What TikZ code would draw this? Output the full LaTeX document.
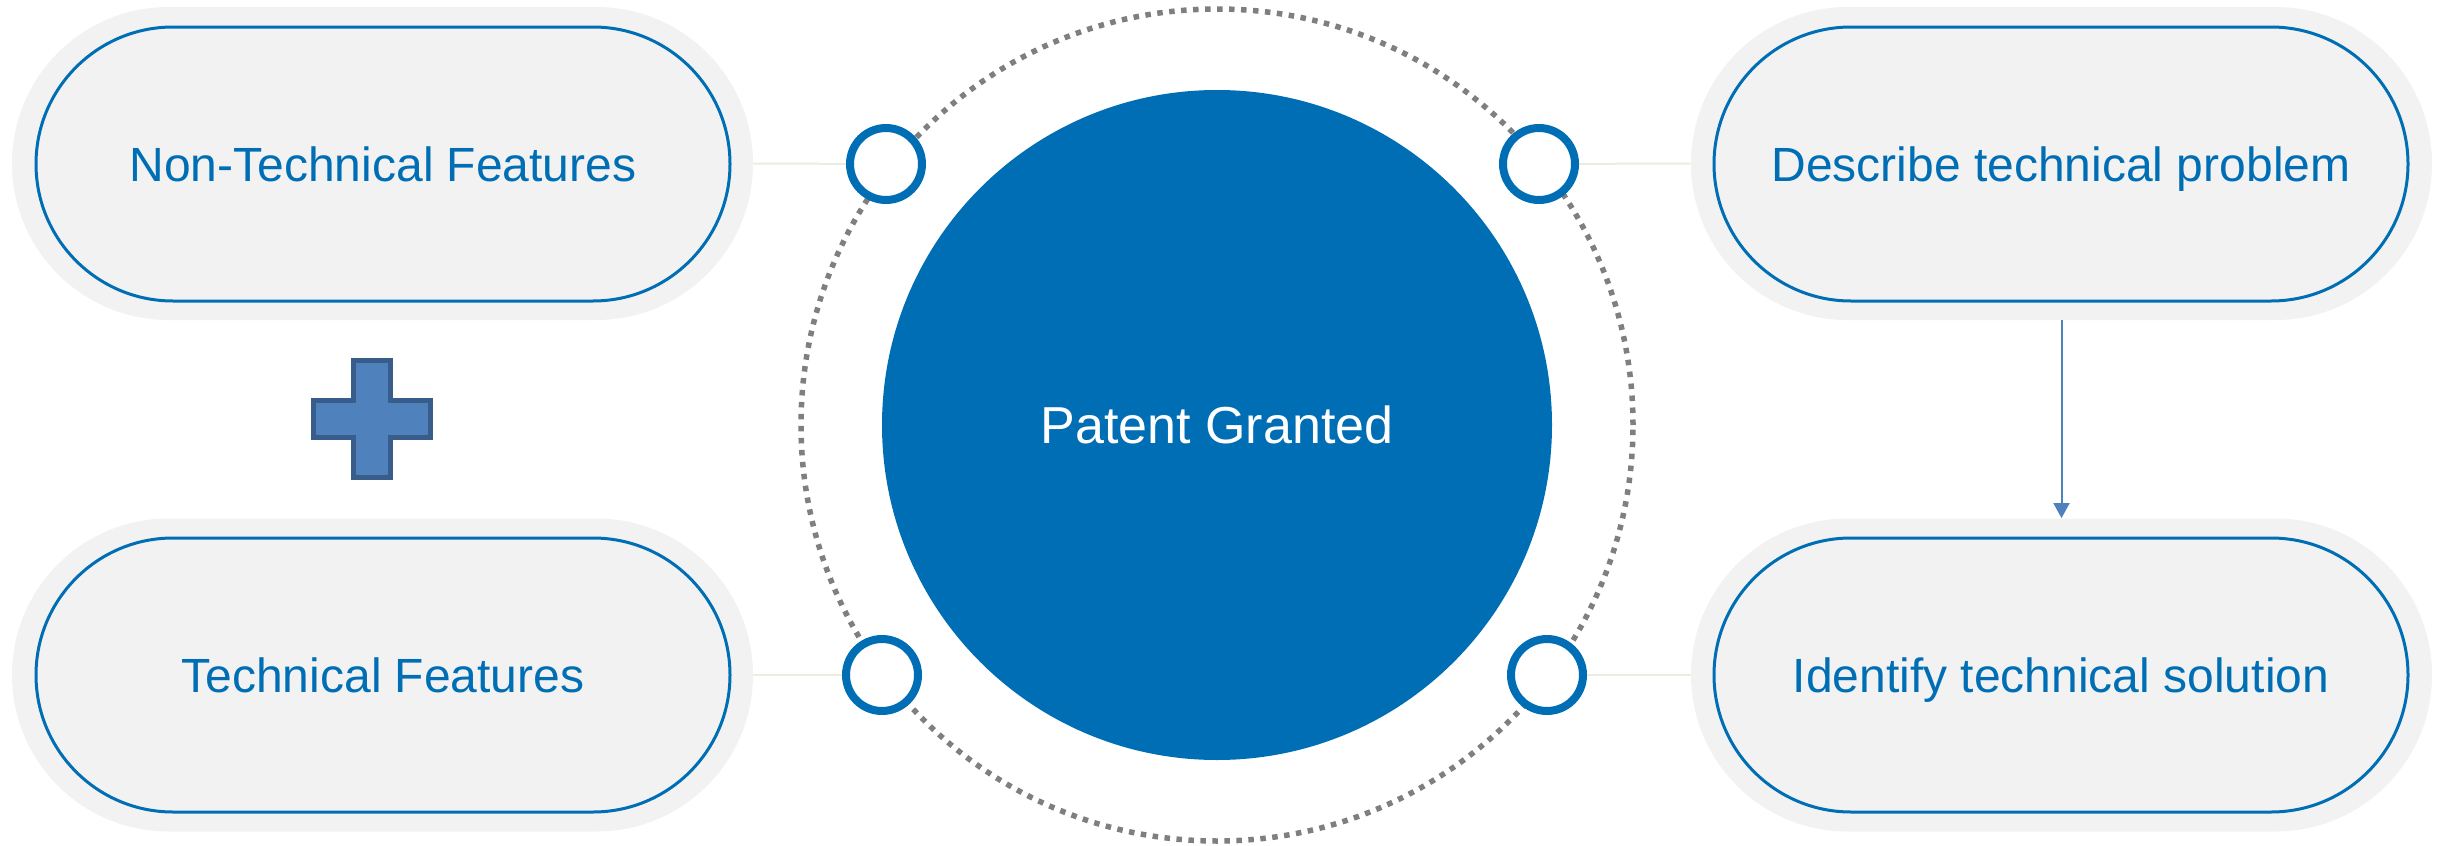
\documentclass[tikz,border=0pt]{standalone}
\usepackage{fontspec}
\setmainfont{Liberation Sans}
\usetikzlibrary{arrows.meta}
\definecolor{pblue}{HTML}{006EB4}
\definecolor{pgray}{HTML}{F2F2F2}
\definecolor{dotgray}{HTML}{7F7F7F}
\definecolor{tanline}{HTML}{EEECE1}
\definecolor{arrowblue}{HTML}{4F81BD}
\definecolor{plusedge}{HTML}{385D8A}
\begin{document}
\begin{tikzpicture}[x=0.5pt,y=-0.5pt,
  outerpill/.style={rectangle, rounded corners=78.25pt, fill=pgray, minimum width=370.5pt, minimum height=156.5pt, inner sep=0pt},
  innerpill/.style={rectangle, rounded corners=68.5pt, fill=pgray, draw=pblue, line width=1.5pt, minimum width=347pt, minimum height=137pt, inner sep=0pt, text=pblue, font=\fontsize{24}{29}\selectfont, text height=17.2pt, text depth=0pt},
  ring/.style={circle, draw=pblue, fill=white, line width=4pt, minimum size=36pt, inner sep=0pt},
  core/.style={circle, fill=pblue, minimum size=335pt, inner sep=0pt, text=white, font=\fontsize{26}{31}\selectfont, text height=18.6pt, text depth=0pt},
  link/.style={draw=tanline, line width=1pt},
  flow/.style={draw=arrowblue, line width=1pt, -{Triangle[length=7.5pt,width=8pt]}},
  dotring/.style={draw=dotgray, line width=2.75pt, dash pattern=on 2.75pt off 3.25pt}
]
\useasboundingbox (0,0) rectangle (2443,846);

% outer pills
\node[outerpill] (tlo) at (382.5,163.5) {};
\node[outerpill] (blo) at (382.5,675) {};
\node[outerpill] (tro) at (2061.5,163.5) {};
\node[outerpill] (bro) at (2061.5,675) {};

% inner pills
\node[innerpill] (tli) at (383,164) {Non-Technical Features};
\node[innerpill] (bli) at (383,675) {Technical Features};
\node[innerpill] (tri) at (2061,164) {Describe technical problem};
\node[innerpill] (bri) at (2061,675) {Identify technical solution};

% ring positions
\coordinate (c1pos) at (886,164);
\coordinate (c2pos) at (1539,164);
\coordinate (c3pos) at (882,675);
\coordinate (c4pos) at (1547,675);

% connectors
\draw[link] (tlo.east) -- (c1pos);
\draw[link] (blo.east) -- (c3pos);
\draw[link] (tro.west) -- (c2pos);
\draw[link] (bro.west) -- (c4pos);

% dotted ring
\coordinate (ctr) at (1217,425);
\draw[dotring] (ctr) circle[radius=208pt];

% central circle
\node[core] (granted) at (ctr) {Patent Granted};

\node[ring] (c1) at (c1pos) {};
\node[ring] (c2) at (c2pos) {};
\node[ring] (c3) at (c3pos) {};
\node[ring] (c4) at (c4pos) {};

% arrow
\draw[flow] (tro.south) -- (bro.north);

% plus sign
\draw[fill=arrowblue, draw=plusedge, line width=2.5pt]
  (353.5,360.5) -- (390.5,360.5) -- (390.5,400.5) -- (430.5,400.5) -- (430.5,437.5)
  -- (390.5,437.5) -- (390.5,477.5) -- (353.5,477.5) -- (353.5,437.5) -- (313.5,437.5)
  -- (313.5,400.5) -- (353.5,400.5) -- cycle;
\end{tikzpicture}
\end{document}
